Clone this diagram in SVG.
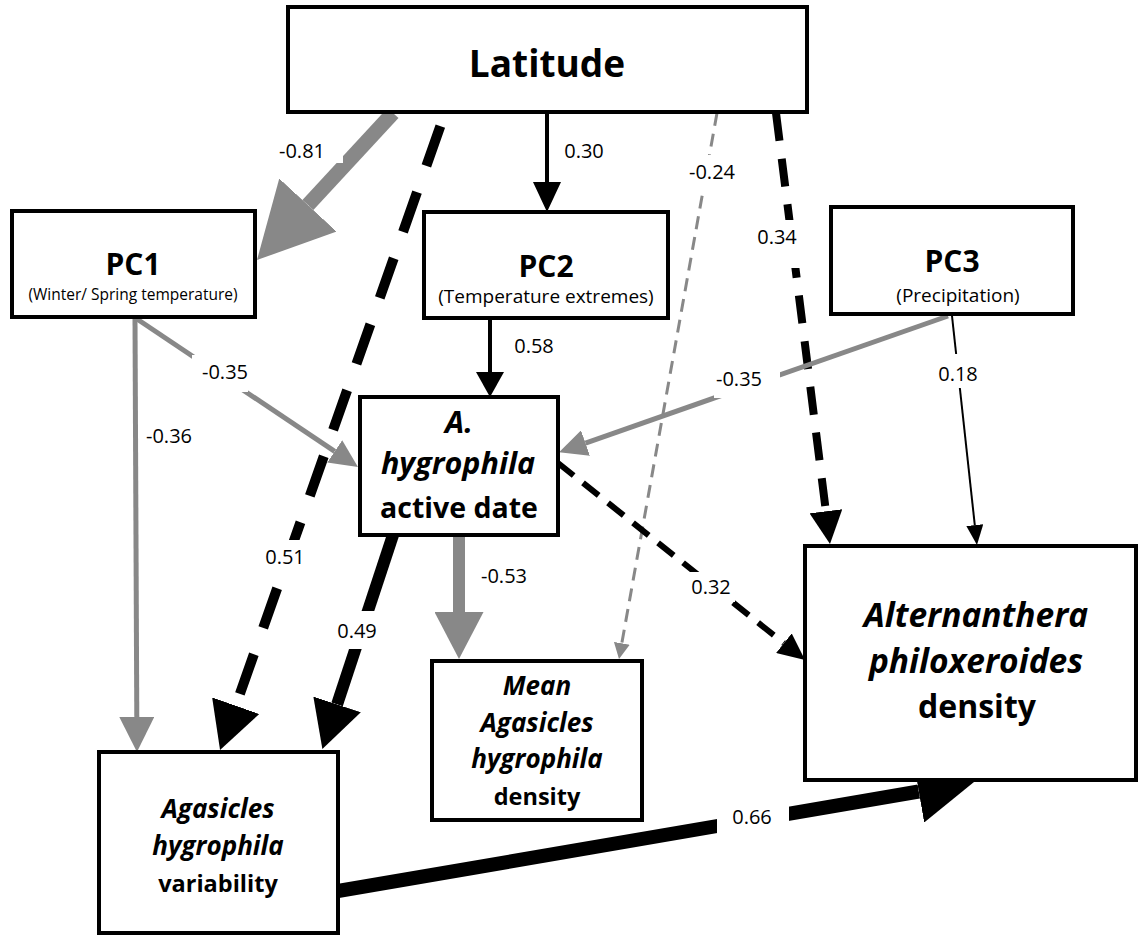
<svg xmlns="http://www.w3.org/2000/svg" width="1139" height="940" viewBox="0 0 1139 940">
<style>
.box{fill:#fff;stroke:#000;stroke-width:4}
text{font-family:"Open Sans","Liberation Sans",sans-serif;fill:#000;text-anchor:middle}
.t1{font-size:37px;font-weight:bold}
.pc{font-size:30px;font-weight:bold}
.sub{font-size:19px}
.sub1{font-size:15.5px}
.n{font-weight:bold;font-size:28.5px}
.ni{font-weight:bold;font-style:italic;font-size:30.5px}
.m{font-weight:bold;font-size:23.5px}
.mi{font-weight:bold;font-style:italic;font-size:26px}
.a{font-weight:bold;font-size:32px}
.ai{font-weight:bold;font-style:italic;font-size:33.5px}
.lbl{font-size:20px}
.lb{fill:#fff;stroke:none}
.c{fill:none}
.k{stroke:#000}
.g{stroke:#888}
</style>
<defs>
<marker id="h81" markerUnits="userSpaceOnUse" viewBox="0 0 75 78" refX="0" refY="39" markerWidth="75" markerHeight="78" orient="auto"><path d="M0,0 L75,39 L0,78 z" fill="#888"/></marker>
<marker id="h30" markerUnits="userSpaceOnUse" viewBox="0 0 30 28" refX="0" refY="14" markerWidth="30" markerHeight="28" orient="auto"><path d="M0,0 L30,14 L0,28 z" fill="#000"/></marker>
<marker id="h58" markerUnits="userSpaceOnUse" viewBox="0 0 25 28" refX="0" refY="14" markerWidth="25" markerHeight="28" orient="auto"><path d="M0,0 L25,14 L0,28 z" fill="#000"/></marker>
<marker id="h51" markerUnits="userSpaceOnUse" viewBox="0 0 47 50" refX="0" refY="25" markerWidth="47" markerHeight="50" orient="auto"><path d="M0,0 L47,25 L0,50 z" fill="#000"/></marker>
<marker id="h53" markerUnits="userSpaceOnUse" viewBox="0 0 47 49" refX="0" refY="24.5" markerWidth="47" markerHeight="49" orient="auto"><path d="M0,0 L47,24.5 L0,49 z" fill="#888"/></marker>
<marker id="h36" markerUnits="userSpaceOnUse" viewBox="0 0 35 35" refX="0" refY="17.5" markerWidth="35" markerHeight="35" orient="auto"><path d="M0,0 L35,17.5 L0,35 z" fill="#888"/></marker>
<marker id="h35" markerUnits="userSpaceOnUse" viewBox="0 0 28 27" refX="0" refY="13.5" markerWidth="28" markerHeight="27" orient="auto"><path d="M0,0 L28,13.5 L0,27 z" fill="#888"/></marker>
<marker id="h24" markerUnits="userSpaceOnUse" viewBox="0 0 16 16" refX="0" refY="8" markerWidth="16" markerHeight="16" orient="auto"><path d="M0,0 L16,8 L0,16 z" fill="#888"/></marker>
<marker id="h34" markerUnits="userSpaceOnUse" viewBox="0 0 33 33" refX="0" refY="16.5" markerWidth="33" markerHeight="33" orient="auto"><path d="M0,0 L33,16.5 L0,33 z" fill="#000"/></marker>
<marker id="h18" markerUnits="userSpaceOnUse" viewBox="0 0 20 17" refX="0" refY="8.5" markerWidth="20" markerHeight="17" orient="auto"><path d="M0,0 L20,8.5 L0,17 z" fill="#000"/></marker>
<marker id="h32" markerUnits="userSpaceOnUse" viewBox="0 0 27 25" refX="0" refY="12.5" markerWidth="27" markerHeight="25" orient="auto"><path d="M0,0 L27,12.5 L0,25 z" fill="#000"/></marker>
<marker id="h66" markerUnits="userSpaceOnUse" viewBox="0 0 56 63" refX="0" refY="31.5" markerWidth="56" markerHeight="63" orient="auto"><path d="M0,0 L56,31.5 L0,63 z" fill="#000"/></marker>
</defs>
<rect width="1139" height="940" fill="#fff"/>
<g id="connectors">
<path class="c g" d="M393,113 L307.9,205" stroke-width="15" marker-end="url(#h81)"/>
<path class="c k" d="M547,113 L547,182" stroke-width="4" marker-end="url(#h30)"/>
<path class="c k" d="M445,113 L235.7,705.7" stroke-width="10" stroke-dasharray="42 28" stroke-dashoffset="-14" marker-end="url(#h51)"/>
<path class="c k" d="M393,535 L337.1,704.4" stroke-width="12" marker-end="url(#h51)"/>
<path class="c g" d="M459,535 L459,612" stroke-width="12" marker-end="url(#h53)"/>
<path class="c k" d="M490,318 L490,372" stroke-width="4" marker-end="url(#h58)"/>
<path class="c g" d="M137,319 L334.7,451.4" stroke-width="5" marker-end="url(#h35)"/>
<path class="c g" d="M135,319 L136.8,717" stroke-width="5" marker-end="url(#h36)"/>
<path class="c g" d="M717,113 L621.8,643.3" stroke-width="3" stroke-dasharray="13 8" marker-end="url(#h24)"/>
<path class="c k" d="M776,113 L825.9,511.3" stroke-width="8" stroke-dasharray="28 18" marker-end="url(#h34)"/>
<path class="c g" d="M948,316 L585.5,443.1" stroke-width="5" marker-end="url(#h35)"/>
<path class="c k" d="M952,316 L974.8,525.1" stroke-width="2" marker-end="url(#h18)"/>
<path class="c k" d="M558,463 L783.9,643.2" stroke-width="6" stroke-dasharray="20 12" marker-end="url(#h32)"/>
<path class="c k" d="M338,891 L918.8,791.5" stroke-width="14" marker-end="url(#h66)"/>
</g>
<g id="labels">
<rect class="lb" x="276" y="137" width="67" height="26"/><text class="lbl" x="302" y="158">-0.81</text>
<text class="lbl" x="584" y="158">0.30</text>
<rect class="lb" x="261" y="540" width="48" height="32"/><text class="lbl" x="285" y="564">0.51</text>
<rect class="lb" x="334" y="611" width="47" height="38"/><text class="lbl" x="357" y="638">0.49</text>
<text class="lbl" x="504" y="583">-0.53</text>
<text class="lbl" x="534" y="353">0.58</text>
<rect class="lb" x="192" y="355" width="56" height="37"/><text class="lbl" x="225" y="379">-0.35</text>
<text class="lbl" x="169" y="443">-0.36</text>
<rect class="lb" x="688" y="155" width="50" height="35"/><text class="lbl" x="712" y="179">-0.24</text>
<rect class="lb" x="754" y="220" width="47" height="48"/><text class="lbl" x="777" y="244">0.34</text>
<rect class="lb" x="714" y="368" width="66" height="30"/><text class="lbl" x="739" y="386">-0.35</text>
<rect class="lb" x="936" y="354" width="45" height="34"/><text class="lbl" x="958" y="381">0.18</text>
<rect class="lb" x="687" y="572" width="48" height="30"/><text class="lbl" x="711" y="594">0.32</text>
<rect class="lb" x="717" y="800" width="72" height="35"/><text class="lbl" x="752" y="824">0.66</text>
</g>
<g id="latitude"><rect class="box" x="288" y="7" width="519" height="105"/><text class="t1" x="547" y="77">Latitude</text></g>
<g id="pc1"><rect class="box" x="12" y="211" width="243" height="106"/><text class="pc" x="133" y="275">PC1</text><text class="sub1" x="133" y="300">(Winter/ Spring temperature)</text></g>
<g id="pc2"><rect class="box" x="424" y="212" width="244" height="106"/><text class="pc" x="546" y="277">PC2</text><text class="sub" x="546" y="303">(Temperature extremes)</text></g>
<g id="pc3"><rect class="box" x="831" y="207" width="242" height="107"/><text class="pc" x="952" y="272">PC3</text><text class="sub" x="958" y="302">(Precipitation)</text></g>
<g id="active-date"><rect class="box" x="360" y="397" width="198" height="138"/><text class="ni" x="459" y="433">A.</text><text class="ni" x="458" y="474">hygrophila</text><text class="n" x="459" y="518">active date</text></g>
<g id="mean-density"><rect class="box" x="432" y="661" width="210" height="159"/><text class="mi" x="537" y="695">Mean</text><text class="mi" x="537" y="732">Agasicles</text><text class="mi" x="537" y="768">hygrophila</text><text class="m" x="537" y="805">density</text></g>
<g id="variability"><rect class="box" x="99" y="752" width="239" height="181"/><text class="mi" x="218" y="818">Agasicles</text><text class="mi" x="218" y="855">hygrophila</text><text class="m" x="218" y="892">variability</text></g>
<g id="alternanthera"><rect class="box" x="805" y="546" width="331" height="234"/><text class="ai" x="976" y="627">Alternanthera</text><text class="ai" x="976" y="673">philoxeroides</text><text class="a" x="977" y="718">density</text></g>
</svg>
